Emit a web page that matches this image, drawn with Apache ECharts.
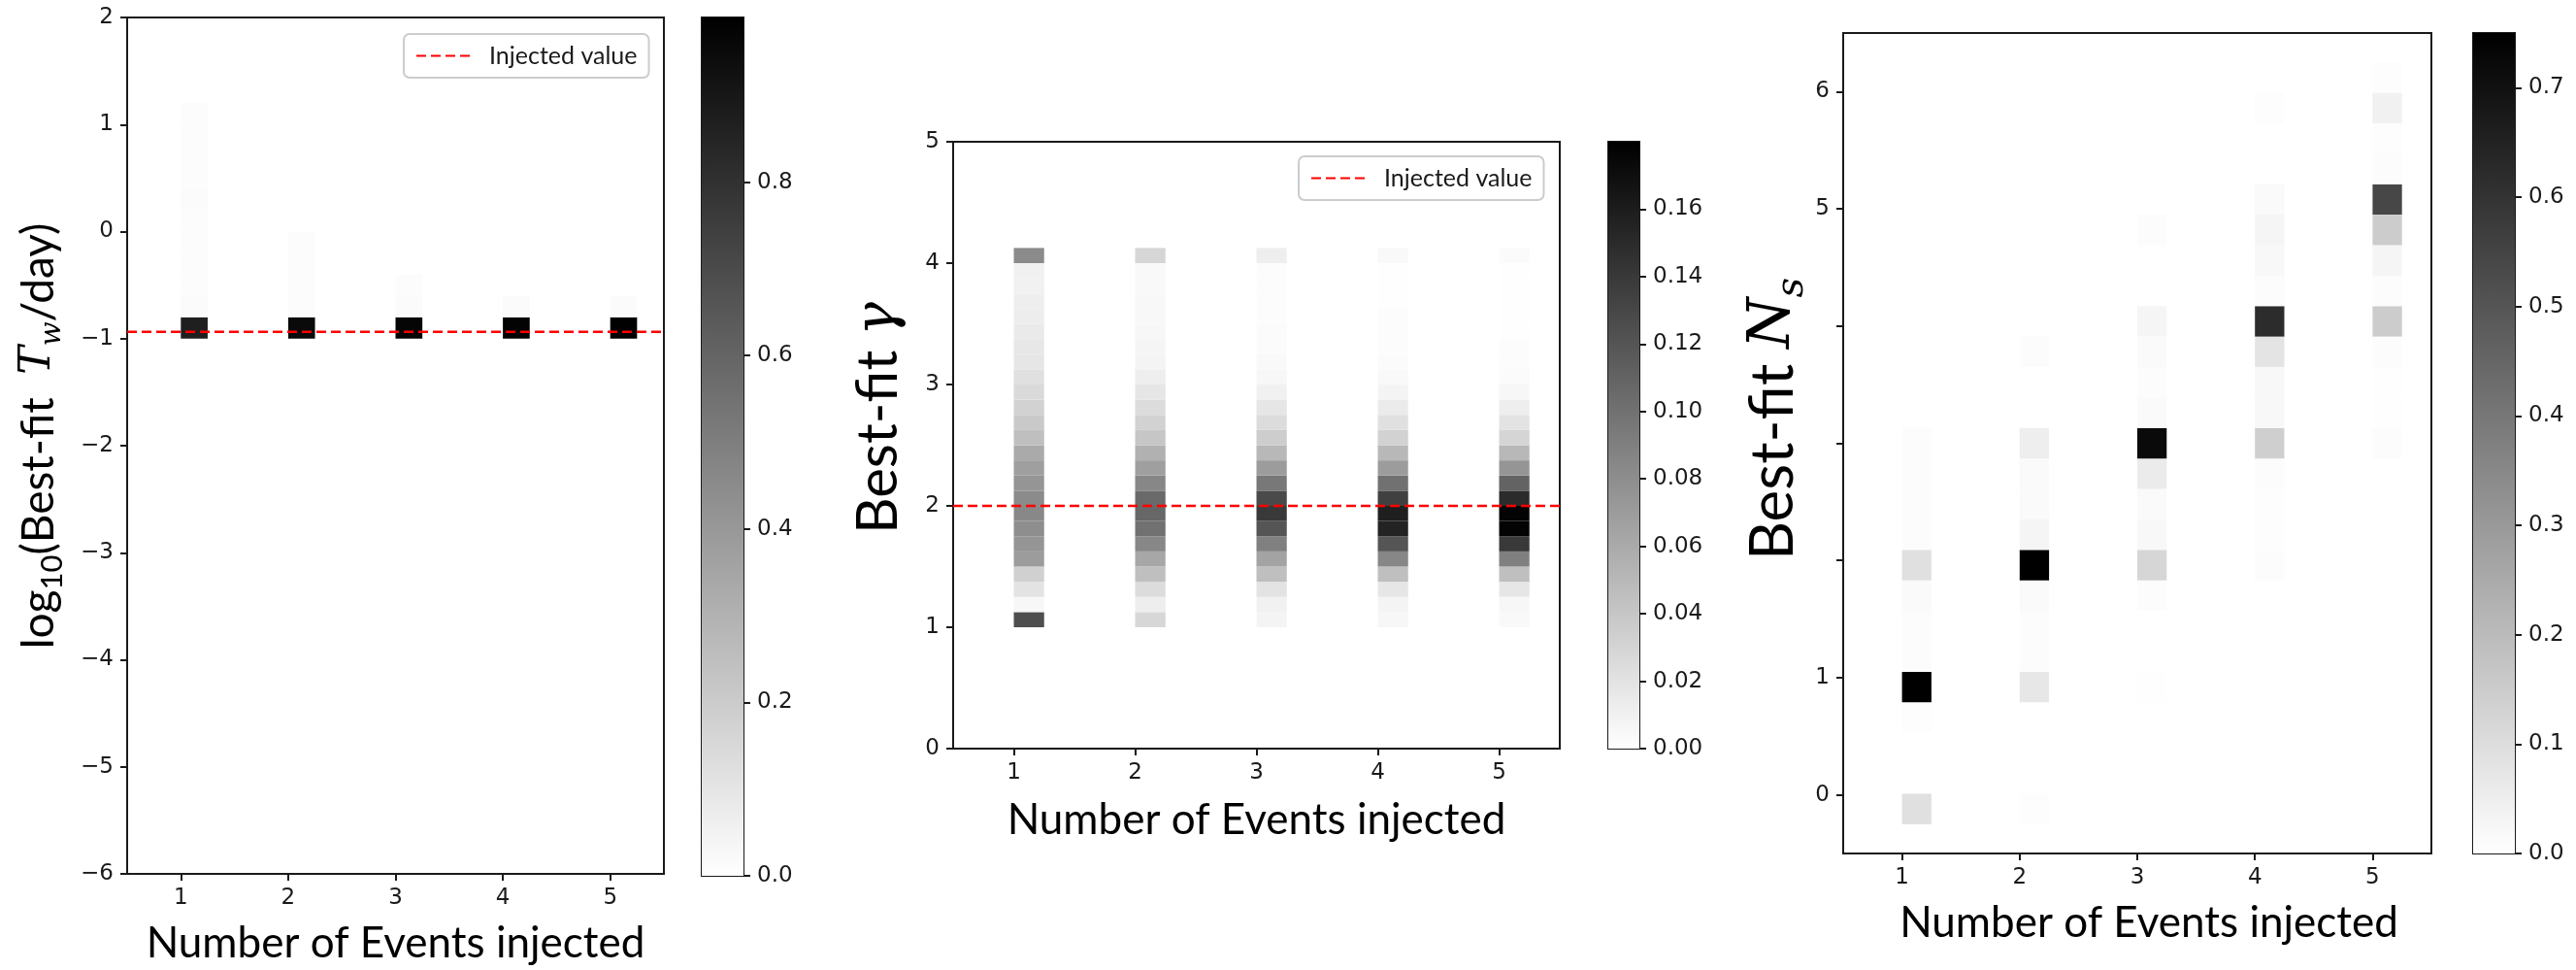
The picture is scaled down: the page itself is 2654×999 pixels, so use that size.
<!DOCTYPE html>
<html><head><meta charset="utf-8">
<script src="https://cdn.jsdelivr.net/npm/echarts@6/dist/echarts.min.js"></script>
<style>html,body{margin:0;padding:0;background:#fff}#c{width:2654px;height:999px}</style>
</head><body><div id="c"></div>
<script>
// ---------------- DATA ----------------
const xTicks = [1, 2, 3, 4, 5];
const colLeft = [1, 2, 3, 4, 5];
const colRight = [1.25, 2.25, 3.25, 4.25, 5.25];
const xLimits = [0.5, 5.5];

// Panel 1: log10(Tw/day)
const twEdges = [-1.0, -0.8, -0.6, -0.4, -0.2, 0.0, 0.2, 0.4, 0.6, 0.8, 1.0, 1.2];
const twCol1 = [0.87, 0.015, 0.013, 0.013, 0.012, 0.012, 0.014, 0.012, 0.012, 0.012, 0.012];
const twCol2 = [0.95, 0.012, 0.012, 0.012, 0.012, 0, 0, 0, 0, 0, 0];
const twCol3 = [0.97, 0.014, 0.012, 0, 0, 0, 0, 0, 0, 0, 0];
const twCol4 = [0.98, 0.015, 0, 0, 0, 0, 0, 0, 0, 0, 0];
const twCol5 = [0.985, 0.015, 0, 0, 0, 0, 0, 0, 0, 0, 0];
const twYTicks = [-6, -5, -4, -3, -2, -1, 0, 1, 2];
const injectedTw = -0.9365;
const cbMax1 = 0.99;
const cbTicks1 = [0.0, 0.2, 0.4, 0.6, 0.8];

// Panel 2: gamma
const gammaEdges = [1.0, 1.125, 1.25, 1.375, 1.5, 1.625, 1.75, 1.875, 2.0, 2.125, 2.25, 2.375, 2.5,
  2.625, 2.75, 2.875, 3.0, 3.125, 3.25, 3.375, 3.5, 3.625, 3.75, 3.875, 4.0, 4.125];
const gammaCol1 = [0.125, 0.006, 0.020, 0.033, 0.070, 0.075, 0.080, 0.084, 0.082, 0.075, 0.068, 0.060, 0.045, 0.038, 0.032, 0.026, 0.022, 0.018, 0.017, 0.015, 0.013, 0.012, 0.010, 0.010, 0.082];
const gammaCol2 = [0.028, 0.012, 0.025, 0.045, 0.062, 0.085, 0.100, 0.107, 0.105, 0.085, 0.068, 0.055, 0.040, 0.032, 0.025, 0.018, 0.012, 0.008, 0.007, 0.006, 0.005, 0.005, 0.004, 0.004, 0.029];
const gammaCol3 = [0.008, 0.010, 0.020, 0.045, 0.065, 0.090, 0.120, 0.140, 0.128, 0.095, 0.070, 0.050, 0.035, 0.025, 0.018, 0.010, 0.006, 0.004, 0.003, 0.003, 0.002, 0.002, 0.002, 0.002, 0.012];
const gammaCol4 = [0.006, 0.008, 0.018, 0.045, 0.085, 0.120, 0.155, 0.158, 0.135, 0.100, 0.070, 0.050, 0.032, 0.022, 0.014, 0.008, 0.004, 0.003, 0.002, 0.002, 0.002, 0.001, 0.001, 0.001, 0.004];
const gammaCol5 = [0.004, 0.006, 0.018, 0.045, 0.090, 0.140, 0.178, 0.178, 0.150, 0.110, 0.075, 0.050, 0.030, 0.020, 0.012, 0.006, 0.003, 0.002, 0.002, 0.001, 0.001, 0.001, 0.001, 0.001, 0.003];
const gammaYTicks = [0, 1, 2, 3, 4, 5];
const injectedGamma = 2;
const cbMax2 = 0.18;
const cbTicks2 = [0.00, 0.02, 0.04, 0.06, 0.08, 0.10, 0.12, 0.14, 0.16];

// Panel 3: Ns
const nsEdges = [-0.25, 0.01, 0.27, 0.53, 0.79, 1.05, 1.31, 1.57, 1.83, 2.09, 2.35, 2.61, 2.87,
  3.13, 3.39, 3.65, 3.91, 4.17, 4.43, 4.69, 4.95, 5.21, 5.47, 5.73, 5.99, 6.25];
const nsCol1 = [0.09, 0, 0, 0.005, 0.75, 0.01, 0.01, 0.015, 0.09, 0.01, 0.008, 0.008, 0.008, 0, 0, 0, 0, 0, 0, 0, 0, 0, 0, 0, 0];
const nsCol2 = [0.006, 0, 0, 0, 0.07, 0.01, 0.01, 0.015, 0.75, 0.03, 0.015, 0.015, 0.05, 0, 0, 0.008, 0, 0, 0, 0, 0, 0, 0, 0, 0];
const nsCol3 = [0, 0, 0, 0, 0.004, 0, 0, 0.008, 0.12, 0.02, 0.015, 0.06, 0.72, 0.015, 0.01, 0.015, 0.03, 0, 0, 0.008, 0, 0, 0, 0, 0];
const nsCol4 = [0, 0, 0, 0, 0, 0, 0, 0, 0.008, 0.005, 0.005, 0.008, 0.14, 0.02, 0.02, 0.08, 0.62, 0.01, 0.02, 0.03, 0.015, 0, 0, 0.006, 0];
const nsCol5 = [0, 0, 0, 0, 0, 0, 0, 0, 0, 0, 0, 0, 0.008, 0.004, 0.004, 0.01, 0.15, 0.01, 0.03, 0.15, 0.54, 0.01, 0.006, 0.04, 0.006];
const nsYTicks = [0, 1, 2, 3, 4, 5, 6];
const nsYLabels = [0, 1, 5, 6];
const nsLimits = [-0.5, 6.5];
const cbMax3 = 0.75;
const cbTicks3 = [0.0, 0.1, 0.2, 0.3, 0.4, 0.5, 0.6, 0.7];

// ---------------- BUILD ----------------
function cells(cols, edges) {
  const out = [];
  cols.forEach((col, c) => {
    col.forEach((v, k) => {
      if (v > 0) out.push([colLeft[c], colRight[c], edges[k], edges[k + 1], v]);
    });
  });
  return out;
}
const twData = cells([twCol1, twCol2, twCol3, twCol4, twCol5], twEdges);
const gammaData = cells([gammaCol1, gammaCol2, gammaCol3, gammaCol4, gammaCol5], gammaEdges);
const nsData = cells([nsCol1, nsCol2, nsCol3, nsCol4, nsCol5], nsEdges);

const TICK_FONT = 'DejaVu Sans';
const TITLE_FONT = 'Lato';
const INK = '#1a1a1a';

function cellRender(params, api) {
  const p0 = api.coord([api.value(0), api.value(3)]);
  const p1 = api.coord([api.value(1), api.value(2)]);
  return { type: 'rect', shape: { x: p0[0], y: p0[1], width: p1[0] - p0[0], height: p1[1] - p0[1] },
    style: { fill: api.visual('color') } };
}
function cbRender(params, api) {
  const p0 = api.coord([0, api.value(1)]);
  const p1 = api.coord([1, api.value(0)]);
  return { type: 'rect', shape: { x: p0[0], y: p0[1], width: p1[0] - p0[0], height: p1[1] - p0[1] },
    style: { fill: new echarts.graphic.LinearGradient(0, 0, 0, 1, [{ offset: 0, color: '#000000' }, { offset: 1, color: '#ffffff' }]) } };
}
const minus = v => (v < 0 ? '\u2212' + Math.abs(v) : String(v));

function grid(l, t, w, h) {
  return { left: l, top: t, width: w, height: h, show: true, borderColor: INK, borderWidth: 2, backgroundColor: '#fff', containLabel: false };
}
function xMain(gi, nameGap, shift) {
  return { gridIndex: gi, type: 'value', min: xLimits[0], max: xLimits[1],
    axisLine: { show: false, onZero: false }, splitLine: { show: false },
    axisTick: { show: true, length: 7, lineStyle: { color: INK, width: 2 }, customValues: xTicks },
    axisLabel: { customValues: xTicks, fontFamily: TICK_FONT, fontSize: 23, color: INK, margin: 14 },
    name: 'Number of Events injected', nameLocation: 'middle', nameGap: nameGap,
    nameTextStyle: { fontFamily: TITLE_FONT, fontSize: 44, color: '#000', padding: [0, 0, 0, shift || 0] } };
}
function xCb(gi) {
  return { gridIndex: gi, type: 'value', min: 0, max: 1, show: false };
}
function yCb(gi, max, ticks, dec) {
  return { gridIndex: gi, type: 'value', min: 0, max: max, position: 'right',
    axisLine: { show: false, onZero: false }, splitLine: { show: false },
    axisTick: { show: true, length: 7, lineStyle: { color: INK, width: 2 }, customValues: ticks },
    axisLabel: { customValues: ticks, fontFamily: TICK_FONT, fontSize: 23, color: INK, margin: 14,
      formatter: v => v.toFixed(dec) } };
}
function richSet(sz) {
  const lh = Math.round(sz * 1.25);
  return {
    a: { fontFamily: TITLE_FONT, fontSize: sz, color: '#000', lineHeight: lh },
    s: { fontFamily: TITLE_FONT, fontSize: Math.round(sz * 0.68), color: '#000', lineHeight: Math.round(sz * 0.68), verticalAlign: 'bottom' },
    i: { fontFamily: 'DejaVu Serif', fontStyle: 'italic', fontSize: Math.round(sz * 0.96), color: '#000', lineHeight: lh },
    is: { fontFamily: 'DejaVu Serif', fontStyle: 'italic', fontSize: Math.round(sz * 0.64), color: '#000', lineHeight: Math.round(sz * 0.68), verticalAlign: 'bottom' },
    g: { fontFamily: 'DejaVu Serif', fontStyle: 'italic', fontSize: sz, color: '#000', lineHeight: lh }
  };
}
function legendAt(left, top) {
  return { data: ['Injected value'], left: left, top: top, orient: 'horizontal', selectedMode: false,
    itemWidth: 56, itemHeight: 14, padding: [10, 12, 10, 12],
    itemStyle: { opacity: 0 },
    borderColor: '#cccccc', borderWidth: 2, borderRadius: 6, backgroundColor: 'rgba(255,255,255,0.8)',
    textStyle: { fontFamily: TITLE_FONT, fontSize: 25, color: '#1a1a1a', padding: [0, 0, 0, 14] } };
}

const option = {
  animation: false,
  backgroundColor: '#ffffff',
  grid: [
    grid(131, 18, 553, 884),   // panel 1
    grid(723, 18, 43, 884),    // colorbar 1
    grid(982, 146, 625, 625),  // panel 2
    grid(1657, 146, 32, 625),  // colorbar 2
    grid(1899, 34, 606, 845),  // panel 3
    grid(2548, 34, 43, 845)    // colorbar 3
  ],
  xAxis: [xMain(0, 50), xCb(1), xMain(2, 52), xCb(3), xMain(4, 50, 24), xCb(5)],
  yAxis: [
    { gridIndex: 0, type: 'value', min: -6, max: 2, interval: 1,
      axisLine: { show: false, onZero: false }, splitLine: { show: false },
      axisTick: { show: true, length: 7, lineStyle: { color: INK, width: 2 }, customValues: twYTicks },
      axisLabel: { customValues: twYTicks, fontFamily: TICK_FONT, fontSize: 23, color: INK, margin: 14, formatter: minus },
      name: '{a|log}{s|10}{a|(Best-fit  }{i|T}{is|w}{a|/day)}', nameLocation: 'middle', nameGap: 62,
      nameTextStyle: { rich: richSet(46), padding: [0, 0, 0, 20] } },
    yCb(1, cbMax1, cbTicks1, 1),
    { gridIndex: 2, type: 'value', min: 0, max: 5, interval: 1,
      axisLine: { show: false, onZero: false }, splitLine: { show: false },
      axisTick: { show: true, length: 7, lineStyle: { color: INK, width: 2 }, customValues: gammaYTicks },
      axisLabel: { customValues: gammaYTicks, fontFamily: TICK_FONT, fontSize: 23, color: INK, margin: 14 },
      name: '{a|Best-fit }{g|\u03b3}', nameLocation: 'middle', nameGap: 40,
      nameTextStyle: { rich: richSet(58), padding: [0, 0, 0, 56] } },
    yCb(3, cbMax2, cbTicks2, 2),
    { gridIndex: 4, type: 'value', min: nsLimits[0], max: nsLimits[1],
      axisLine: { show: false, onZero: false }, splitLine: { show: false },
      axisTick: { show: true, length: 7, lineStyle: { color: INK, width: 2 }, customValues: nsYTicks },
      axisLabel: { customValues: nsYLabels, fontFamily: TICK_FONT, fontSize: 23, color: INK, margin: 14 },
      name: '{a|Best-fit }{i|N}{is|s}', nameLocation: 'middle', nameGap: 32,
      nameTextStyle: { rich: richSet(62), padding: [0, 0, 0, 50] } },
    yCb(5, cbMax3, cbTicks3, 1)
  ],
  visualMap: [
    { type: 'continuous', show: false, seriesIndex: 0, dimension: 4, min: 0, max: cbMax1, inRange: { color: ['#ffffff', '#000000'] } },
    { type: 'continuous', show: false, seriesIndex: 1, dimension: 4, min: 0, max: cbMax2, inRange: { color: ['#ffffff', '#000000'] } },
    { type: 'continuous', show: false, seriesIndex: 2, dimension: 4, min: 0, max: cbMax3, inRange: { color: ['#ffffff', '#000000'] } }
  ],
  legend: [legendAt(416, 35), legendAt(1338, 161)],
  series: [
    { type: 'custom', xAxisIndex: 0, yAxisIndex: 0, renderItem: cellRender, data: twData, encode: { x: [0, 1], y: [2, 3] }, silent: true },
    { type: 'custom', xAxisIndex: 2, yAxisIndex: 2, renderItem: cellRender, data: gammaData, encode: { x: [0, 1], y: [2, 3] }, silent: true },
    { type: 'custom', xAxisIndex: 4, yAxisIndex: 4, renderItem: cellRender, data: nsData, encode: { x: [0, 1], y: [2, 3] }, silent: true },
    { type: 'custom', xAxisIndex: 1, yAxisIndex: 1, renderItem: cbRender, data: [[0, cbMax1]], silent: true },
    { type: 'custom', xAxisIndex: 3, yAxisIndex: 3, renderItem: cbRender, data: [[0, cbMax2]], silent: true },
    { type: 'custom', xAxisIndex: 5, yAxisIndex: 5, renderItem: cbRender, data: [[0, cbMax3]], silent: true },
    { type: 'line', name: 'Injected value', xAxisIndex: 0, yAxisIndex: 0, symbol: 'none', z: 5,
      data: [[xLimits[0], injectedTw], [xLimits[1], injectedTw]],
      lineStyle: { color: '#ff0000', type: [10, 5], width: 2.5 }, itemStyle: { color: '#ff0000' } },
    { type: 'line', name: 'Injected value', xAxisIndex: 2, yAxisIndex: 2, symbol: 'none', z: 5,
      data: [[xLimits[0], injectedGamma], [xLimits[1], injectedGamma]],
      lineStyle: { color: '#ff0000', type: [10, 5], width: 2.5 }, itemStyle: { color: '#ff0000' } }
  ]
};
const chart = echarts.init(document.getElementById('c'), null, { renderer: 'canvas' });
chart.setOption(option);
</script></body></html>
